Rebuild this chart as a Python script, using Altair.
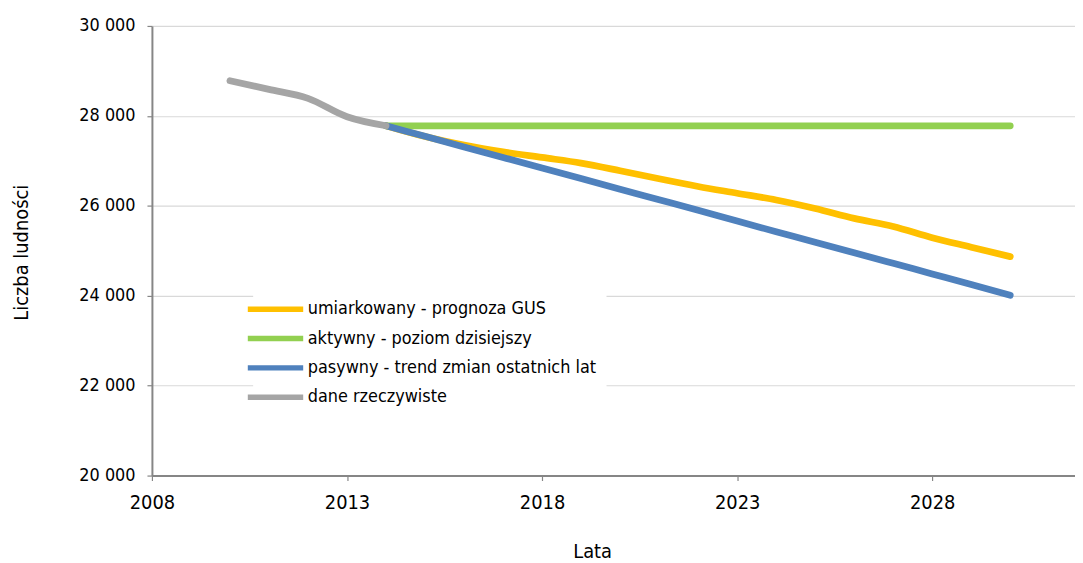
import altair as alt
import pandas as pd

FONT = "DejaVu Sans Condensed, Liberation Sans, sans-serif"

series_names = [
    "umiarkowany - prognoza GUS",
    "aktywny - poziom dzisiejszy",
    "pasywny - trend zmian ostatnich lat",
    "dane rzeczywiste",
]
series_colors = ["#FFC000", "#92D050", "#4F81BD", "#A5A5A5"]

years_forecast = list(range(2014, 2031))
umiarkowany = [27780, 27540, 27350, 27200, 27075, 26950, 26780, 26600, 26430,
               26280, 26130, 25940, 25720, 25540, 25290, 25080, 24870]
aktywny = [27780] * 17
pasywny = [27780, 27545, 27310, 27075, 26840, 26605, 26370, 26135, 25900,
           25660, 25425, 25190, 24955, 24720, 24485, 24250, 24010]
years_actual = [2010, 2011, 2012, 2013, 2014]
rzeczywiste = [28780, 28590, 28390, 27980, 27780]

x_ticks = [2008, 2013, 2018, 2023, 2028]
y_ticks = [20000, 22000, 24000, 26000, 28000, 30000]

rows = []
for name, ys, vals in [
    (series_names[0], years_forecast, umiarkowany),
    (series_names[1], years_forecast, aktywny),
    (series_names[2], years_forecast, pasywny),
    (series_names[3], years_actual, rzeczywiste),
]:
    for i, (yr, v) in enumerate(zip(ys, vals)):
        rows.append({"rok": yr, "ludnosc": v, "seria": name, "i": i})
df = pd.DataFrame(rows)

chart = alt.Chart(df).mark_line(
    strokeWidth=6.8, strokeCap="round", strokeJoin="round", interpolate="monotone"
).encode(
    x=alt.X("rok:Q",
            scale=alt.Scale(domain=[2008, 2031.66], nice=False, zero=False),
            axis=alt.Axis(values=x_ticks, format="d", title="Lata", grid=False,
                          labelFontSize=20, labelPadding=12, tickSize=5,
                          labelFlush=False, labelOverlap=False,
                          titleFontSize=20, titleFontWeight="normal",
                          titleX=443.5, titleY=82.7, titleBaseline="alphabetic")),
    y=alt.Y("ludnosc:Q",
            scale=alt.Scale(domain=[20000, 30000], nice=False, zero=False),
            axis=alt.Axis(values=y_ticks, title="Liczba ludności",
                          labelExpr="replace(format(datum.value, ','), ',', ' ')",
                          labelFontSize=18, labelPadding=12, tickSize=5,
                          labelFlush=False,
                          titleFontSize=20, titleFontWeight="normal",
                          titleX=-125, titleY=228, titleBaseline="alphabetic",
                          gridColor="#D9D9D9", gridWidth=1.2)),
    color=alt.Color("seria:N",
                    scale=alt.Scale(domain=series_names, range=series_colors),
                    legend=alt.Legend(title=None, orient="none", legendX=102, legendY=263,
                                      symbolType="M-3,0L3,0", symbolSize=346,
                                      symbolStrokeWidth=5.5, labelOffset=20,
                                      labelFontSize=18, rowPadding=5.5,
                                      padding=10, fillColor="white",
                                      labelLimit=500)),
    detail="seria:N",
    order="i:Q",
).properties(
    width=930, height=453,
    padding={"left": 145, "top": 16, "right": 0, "bottom": 85},
    autosize=alt.AutoSizeParams(type="none"),
).configure_view(
    stroke=None
).configure_axis(
    labelFont=FONT, titleFont=FONT, labelColor="#000000", titleColor="#000000",
    domainColor="#868686", domainWidth=2, tickColor="#868686", tickWidth=1.2,
).configure_legend(
    labelFont=FONT, labelColor="#000000"
)

chart.save("out.html", embed_options={"renderer": "svg", "actions": False})
